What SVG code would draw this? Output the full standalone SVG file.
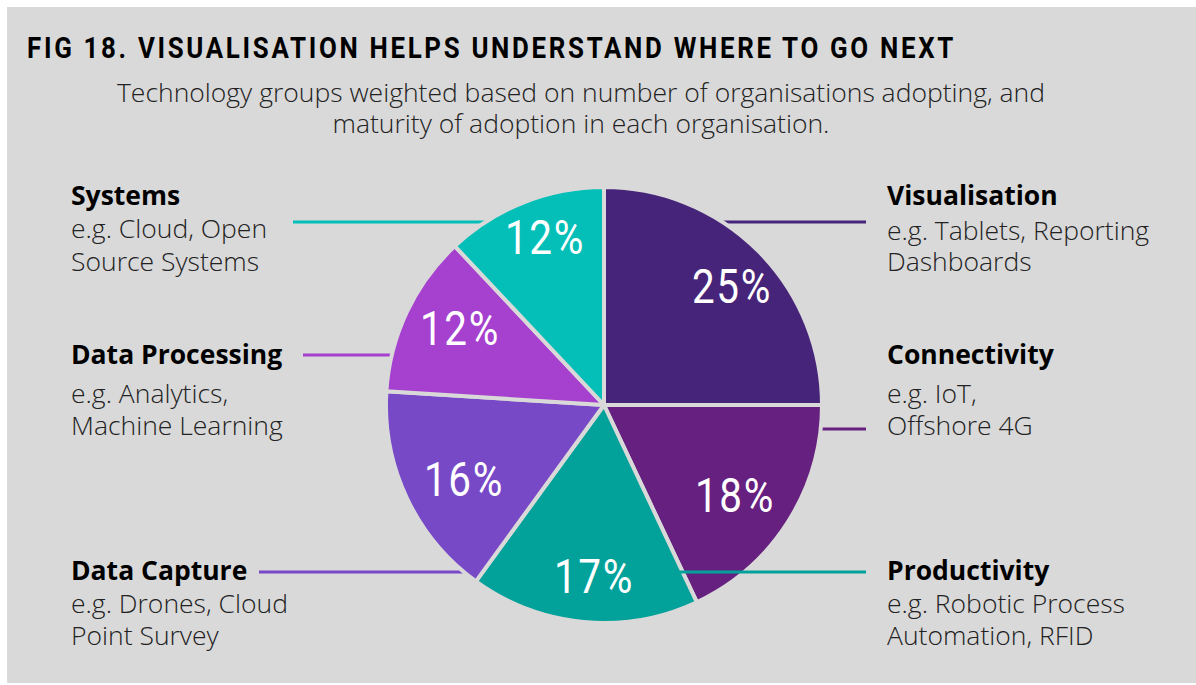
<svg xmlns="http://www.w3.org/2000/svg" width="1196" height="685" viewBox="0 0 1196 685">
<style>
.title{font-family:Roboto,"Liberation Sans",sans-serif;font-weight:700;font-size:29px;fill:#000;letter-spacing:3px}
.sub{font-family:"Open Sans","Liberation Sans",sans-serif;font-weight:300;font-size:26.5px;fill:#222;text-anchor:middle}
.hd{font-family:"Open Sans","Liberation Sans",sans-serif;font-weight:700;font-size:26.5px;fill:#000}
.bd{font-family:"Open Sans","Liberation Sans",sans-serif;font-weight:300;font-size:26.5px;fill:#222}
.pct{font-family:Roboto,"Liberation Sans",sans-serif;font-weight:400;font-size:49px;fill:#fff;text-anchor:middle;letter-spacing:2px}
.slice{stroke:#d9d9d9;stroke-width:4;stroke-linejoin:round}
.lead{stroke-width:3;fill:none}
</style>
<rect x="7" y="7" width="1189" height="676" fill="#d9d9d9"/>
<text class="title" x="27" y="58" textLength="929" lengthAdjust="spacingAndGlyphs">FIG 18. VISUALISATION HELPS UNDERSTAND WHERE TO GO NEXT</text>
<text class="sub" x="581" y="102">Technology groups weighted based on number of organisations adopting, and</text>
<text class="sub" x="581" y="133">maturity of adoption in each organisation.</text>
<g id="connectors-back">
<line class="lead" x1="293" y1="222" x2="490" y2="222" stroke="#03bfb8"/>
<line class="lead" x1="303" y1="355" x2="395" y2="355" stroke="#a640cf"/>
<line class="lead" x1="259" y1="572" x2="468" y2="572" stroke="#7849c7"/>
<line class="lead" x1="718" y1="222" x2="866" y2="222" stroke="#46247a"/>
<line class="lead" x1="818" y1="429" x2="866" y2="429" stroke="#66207f"/>
</g>
<g id="pie">
<g id="slice-visualisation"><path class="slice" d="M604 405 L604 187 A218 218 0 0 1 822 405 Z" fill="#46247a"/><text class="pct" x="732" y="303" textLength="80" lengthAdjust="spacingAndGlyphs">25%</text></g>
<g id="slice-connectivity"><path class="slice" d="M604 405 L822 405 A218 218 0 0 1 696.8 602.2 Z" fill="#66207f"/><text class="pct" x="735" y="512" textLength="80" lengthAdjust="spacingAndGlyphs">18%</text></g>
<g id="slice-productivity"><path class="slice" d="M604 405 L696.8 602.2 A218 218 0 0 1 475.9 581.4 Z" fill="#02a29b"/><text class="pct" x="594" y="593" textLength="80" lengthAdjust="spacingAndGlyphs">17%</text></g>
<g id="slice-datacapture"><path class="slice" d="M604 405 L475.9 581.4 A218 218 0 0 1 386.4 391.3 Z" fill="#7849c7"/><text class="pct" x="464" y="496" textLength="80" lengthAdjust="spacingAndGlyphs">16%</text></g>
<g id="slice-dataprocessing"><path class="slice" d="M604 405 L386.4 391.3 A218 218 0 0 1 454.8 246.1 Z" fill="#a640cf"/><text class="pct" x="460" y="345" textLength="80" lengthAdjust="spacingAndGlyphs">12%</text></g>
<g id="slice-systems"><path class="slice" d="M604 405 L454.8 246.1 A218 218 0 0 1 604 187 Z" fill="#03bfb8"/><text class="pct" x="545" y="254" textLength="80" lengthAdjust="spacingAndGlyphs">12%</text></g>
</g>
<g id="connectors-front">
<line class="lead" x1="677" y1="572" x2="866" y2="572" stroke="#02a29b"/>
</g>
<g id="label-systems"><text class="hd" x="71" y="205">Systems</text><text class="bd" x="71" y="238">e.g. Cloud, Open</text><text class="bd" x="71" y="271">Source Systems</text></g>
<g id="label-dataprocessing"><text class="hd" x="71" y="364">Data Processing</text><text class="bd" x="71" y="403">e.g. Analytics,</text><text class="bd" x="71" y="435">Machine Learning</text></g>
<g id="label-datacapture"><text class="hd" x="71" y="580">Data Capture</text><text class="bd" x="71" y="613">e.g. Drones, Cloud</text><text class="bd" x="71" y="645">Point Survey</text></g>
<g id="label-visualisation"><text class="hd" x="887" y="205">Visualisation</text><text class="bd" x="887" y="240">e.g. Tablets, Reporting</text><text class="bd" x="887" y="271">Dashboards</text></g>
<g id="label-connectivity"><text class="hd" x="887" y="364">Connectivity</text><text class="bd" x="887" y="403">e.g. IoT,</text><text class="bd" x="887" y="435">Offshore 4G</text></g>
<g id="label-productivity"><text class="hd" x="887" y="580">Productivity</text><text class="bd" x="887" y="613">e.g. Robotic Process</text><text class="bd" x="887" y="645">Automation, RFID</text></g>
</svg>
